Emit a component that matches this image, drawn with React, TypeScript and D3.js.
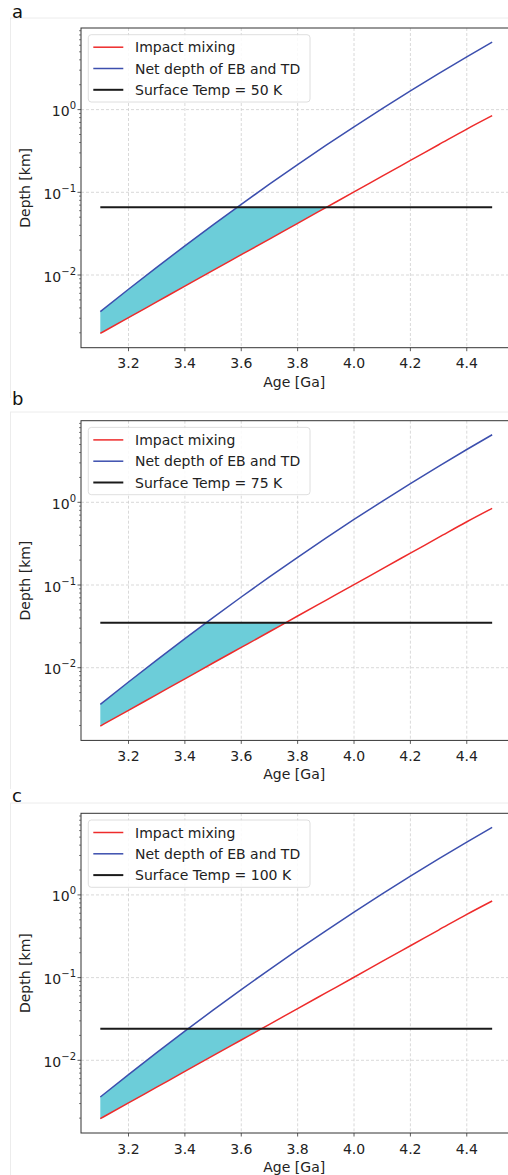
import React from "react";
import * as d3 from "d3";

// ---- data ----
const ages = [3.1, 3.2, 3.3, 3.4, 3.5, 3.6, 3.7, 3.8, 3.9, 4.0, 4.1, 4.2, 4.3, 4.4, 4.49];
const impactMixing = [0.00197, 0.00305, 0.00473, 0.00733, 0.0114, 0.0176, 0.0272, 0.0422, 0.0653, 0.101, 0.157, 0.243, 0.376, 0.582, 0.845];
const netDepth = [0.0036, 0.00672, 0.01238, 0.02252, 0.04044, 0.07164, 0.1253, 0.2163, 0.3686, 0.6201, 1.029, 1.687, 2.728, 4.353, 6.56];
const panelLetters = ["a", "b", "c"];
const surfaceTemps = [50, 75, 100];
const surfaceDepths = [0.066, 0.035, 0.024];
const xTicks = [3.2, 3.4, 3.6, 3.8, 4.0, 4.2, 4.4];
const yTickExps = [0, -1, -2];
const seriesNames = ["Impact mixing", "Net depth of EB and TD"];

// ---- layout ----
const W = 508;
const H = 1175;
const AX_LEFT = 81;
const AX_RIGHT = 511.5;
const AX_H = 319.7;
const panelTops = [28, 420.7, 813.3];
const letterBaselines = [18.3, 405, 801.7];
const frameTops = [18, 412, 803];
const frameBottoms = [398, 789, 1175];

const RED = "#ee2b2b";
const BLUE = "#3c4fae";
const FILL = "#6ccdd9";
const FONT = "'DejaVu Sans', sans-serif";

const xScale = d3.scaleLinear().domain([3.0315, 3.0315 + (AX_RIGHT - AX_LEFT) / 281.9]).range([AX_LEFT, AX_RIGHT]);

function Panel({ idx }: { idx: number }) {
  const top = panelTops[idx];
  const bottom = top + AX_H;
  const y = d3.scaleLog().domain([Math.pow(10, -2.879), Math.pow(10, 0.987)]).range([bottom, top]);
  const black = surfaceDepths[idx];
  const pts = ages.map((a, i) => ({ a, r: impactMixing[i], b: netDepth[i] }));
  const curve = d3.curveMonotoneX;
  const redLine = d3.line<any>().x((d) => xScale(d.a)).y((d) => y(d.r)).curve(curve)(pts) || "";
  const blueLine = d3.line<any>().x((d) => xScale(d.a)).y((d) => y(d.b)).curve(curve)(pts) || "";
  const area = d3.area<any>().x((d) => xScale(d.a)).y0((d) => y(d.r)).y1((d) => y(d.b)).curve(curve)(pts) || "";
  const yb = y(black);
  const clipId = `clip-${idx}`;
  const minor: number[] = [];
  for (let dd = -3; dd <= 0; dd++) for (let k = 2; k <= 9; k++) {
    const v = k * Math.pow(10, dd);
    const [lo, hi] = y.domain();
    if (v > lo && v < hi) minor.push(v);
  }
  const x0 = xScale(ages[0]);
  const x1 = xScale(ages[ages.length - 1]);
  const legX = 88.3, legY = top + 6.7, legW = 221.7, legH = 67.3;
  const legendRows = [
    { name: seriesNames[0], color: RED, w: 1.5 },
    { name: seriesNames[1], color: BLUE, w: 1.5 },
    { name: `Surface Temp = ${surfaceTemps[idx]} K`, color: "#1a1a1a", w: 2 },
  ];
  return (
    <g>
      {/* screenshot frame */}
      <line x1={10} x2={W} y1={frameTops[idx]} y2={frameTops[idx]} stroke="#ececec" />
      <line x1={10.5} x2={10.5} y1={frameTops[idx]} y2={frameBottoms[idx]} stroke="#ececec" />
      <text x={12} y={letterBaselines[idx]} fontFamily={FONT} fontSize={18} fill="#111">{panelLetters[idx]}</text>
      <defs>
        <clipPath id={clipId}>
          <rect x={AX_LEFT} y={yb} width={AX_RIGHT - AX_LEFT} height={bottom - yb} />
        </clipPath>
      </defs>
      {/* grid */}
      {xTicks.map((t) => (
        <line key={t} x1={xScale(t)} x2={xScale(t)} y1={top} y2={bottom} stroke="#cfcfcf" strokeWidth={0.8} strokeDasharray="3,2" />
      ))}
      {yTickExps.map((e) => (
        <line key={e} x1={AX_LEFT} x2={AX_RIGHT} y1={y(Math.pow(10, e))} y2={y(Math.pow(10, e))} stroke="#cfcfcf" strokeWidth={0.8} strokeDasharray="3,2" />
      ))}
      {/* fill */}
      <path d={area} fill={FILL} clipPath={`url(#${clipId})`} />
      {/* lines */}
      <path d={redLine} fill="none" stroke={RED} strokeWidth={1.5} />
      <path d={blueLine} fill="none" stroke={BLUE} strokeWidth={1.5} />
      <line x1={x0} x2={x1} y1={yb} y2={yb} stroke="#1a1a1a" strokeWidth={2} />
      {/* spines */}
      <rect x={AX_LEFT} y={top} width={AX_RIGHT - AX_LEFT} height={AX_H} fill="none" stroke="#333" strokeWidth={1} />
      {/* x ticks */}
      {xTicks.map((t) => (
        <g key={t}>
          <line x1={xScale(t)} x2={xScale(t)} y1={bottom} y2={bottom + 3.5} stroke="#333" strokeWidth={0.8} />
          <text x={xScale(t)} y={bottom + 20.5} textAnchor="middle" fontFamily={FONT} fontSize={14} fill="#222">{t.toFixed(1)}</text>
        </g>
      ))}
      <text x={(AX_LEFT + AX_RIGHT) / 2 - 2} y={bottom + 39} textAnchor="middle" fontFamily={FONT} fontSize={14} fill="#222">Age [Ga]</text>
      {/* y ticks */}
      {minor.map((v) => (
        <line key={v} x1={AX_LEFT - 2} x2={AX_LEFT} y1={y(v)} y2={y(v)} stroke="#333" strokeWidth={0.6} />
      ))}
      {yTickExps.map((e) => {
        const yy = y(Math.pow(10, e));
        return (
          <g key={e}>
            <line x1={AX_LEFT - 3.5} x2={AX_LEFT} y1={yy} y2={yy} stroke="#333" strokeWidth={0.8} />
            <text x={AX_LEFT - 5} y={yy + 6.5} textAnchor="end" fontFamily={FONT} fontSize={14} fill="#222">
              10<tspan dy={-7} fontSize={10}>{e === 0 ? "0" : `\u2212${-e}`}</tspan>
            </text>
          </g>
        );
      })}
      <text transform={`translate(30,${(top + bottom) / 2}) rotate(-90)`} textAnchor="middle" fontFamily={FONT} fontSize={14} fill="#222">Depth [km]</text>
      {/* legend */}
      <rect x={legX} y={legY} width={legW} height={legH} rx={3} fill="#fff" fillOpacity={0.85} stroke="#d6d6d6" strokeWidth={0.8} />
      {legendRows.map((r, i) => {
        const ry = legY + 12.5 + i * 21.3;
        return (
          <g key={i}>
            <line x1={93.3} x2={123.3} y1={ry} y2={ry} stroke={r.color} strokeWidth={r.w} />
            <text x={135} y={ry + 5} fontFamily={FONT} fontSize={14} fill="#222">{r.name}</text>
          </g>
        );
      })}
    </g>
  );
}

export default function App() {
  return (
    <svg width={W} height={H} style={{ position: "absolute", left: 0, top: 0, background: "#fff" }}>
      <rect x={0} y={0} width={W} height={H} fill="#fff" />
      {panelLetters.map((_, i) => (
        <Panel key={i} idx={i} />
      ))}
    </svg>
  );
}
